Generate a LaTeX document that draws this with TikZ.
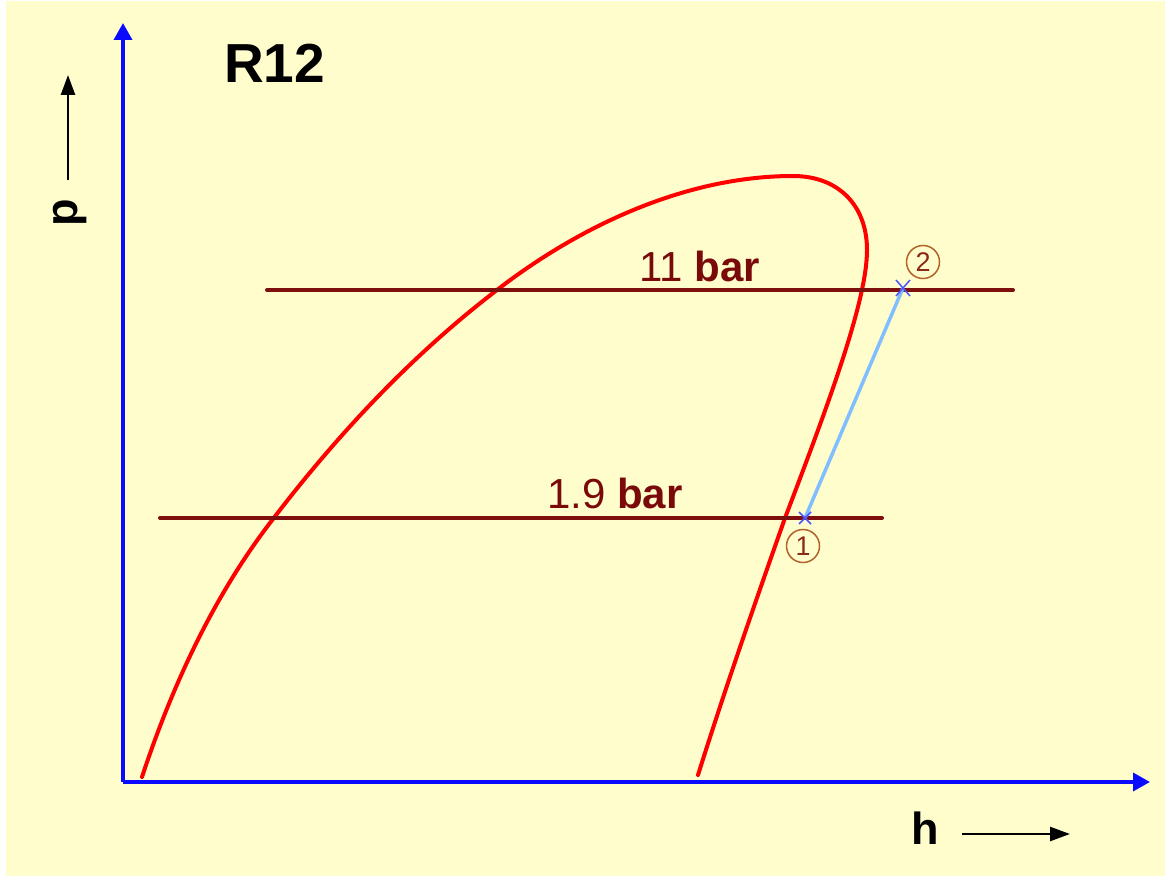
\documentclass[tikz,border=0pt]{standalone}
\usepackage{fontspec}
\setmainfont{Liberation Sans}
\usetikzlibrary{arrows.meta}
\definecolor{bgyel}{HTML}{FFFDCC}
\definecolor{curvered}{HTML}{FF0000}
\definecolor{isobar}{HTML}{7E0F0F}
\definecolor{isolabel}{HTML}{7A0A0A}
\definecolor{compline}{HTML}{80BEFF}
\definecolor{xmark}{HTML}{4A55FF}
\definecolor{axisblue}{HTML}{0A0AFF}
\definecolor{circbrown}{HTML}{B0632A}
\definecolor{circtext}{HTML}{8A2A1A}
\tikzset{
  axisline/.style={draw=axisblue, line width=3.5pt, -{Triangle[length=17pt,width=18pt]}},
  smallarrow/.style={draw=black, line width=2.5pt, -{Triangle[length=20pt,width=14pt]}},
  isoline/.style={draw=isobar, line width=4pt, line cap=round},
  satcurve/.style={draw=curvered, line width=4pt, line cap=round, line join=round},
  compress/.style={draw=compline, line width=3.5pt},
  xm/.style={draw=xmark, line width=1.5pt},
  isotext/.style={text=isolabel, font=\fontsize{42}{42}\selectfont, inner sep=0pt, anchor=base west},
  statept/.style={circle, draw=circbrown, line width=1.5pt, minimum size=33pt, inner sep=0pt, text=circtext, font=\fontsize{27}{27}\selectfont},
  axlabel/.style={text=black, font=\fontsize{45}{45}\selectfont\bfseries, inner sep=0pt}
}
\begin{document}
\begin{tikzpicture}[x=1pt,y=-1pt]
\useasboundingbox (0,0) rectangle (1167,877);
\fill[white] (0,0) rectangle (1167,877);
\fill[bgyel] (6,1) rectangle (1165,876);
% axes
\coordinate (O) at (123,782);
\coordinate (ytip) at (123,23);
\coordinate (xtip) at (1150,782);
\draw[axisline] (O) -- (ytip);
\draw[axisline] (O) -- (xtip);
% saturation curve
\coordinate (cA) at (142,777);
\coordinate (cB) at (273,519);
\coordinate (cC) at (497,290);
\coordinate (cD) at (793,176);
\coordinate (cE) at (867,250);
\coordinate (cF) at (785,518);
\coordinate (cG) at (698,775);
\draw[satcurve] (cA) .. controls (172,686) and (214,595) .. (cB)
  .. controls (338,434) and (412,355) .. (cC)
  .. controls (581,225) and (687,176) .. (cD)
  .. controls (838,176) and (867,205) .. (cE)
  .. controls (867,300) and (830,400) .. (cF)
  .. controls (755,603) and (725,689) .. (cG);
% isobars
\coordinate (hpL) at (267,290);
\coordinate (hpR) at (1013,290);
\coordinate (lpL) at (160,518);
\coordinate (lpR) at (882,518);
\draw[isoline] (hpL) -- (hpR);
\draw[isoline] (lpL) -- (lpR);
\node[isotext] (hplab) at (639,282) {11 \textbf{bar}};
\node[isotext] (lplab) at (547,508) {1.9 \textbf{bar}};
% compression
\coordinate (p1) at (805,518);
\coordinate (p2) at (903,288);
\draw[compress] (p1) -- (p2);
\draw[xm] ([shift={(-6,-6)}]p1) -- ([shift={(6,6)}]p1);
\draw[xm] ([shift={(-6,6)}]p1) -- ([shift={(6,-6)}]p1);
\draw[xm] ([shift={(-7,-8)}]p2) -- ([shift={(7,8)}]p2);
\draw[xm] ([shift={(-7,8)}]p2) -- ([shift={(7,-8)}]p2);
\node[statept] (s1) at (803,546) {1};
\node[statept] (s2) at (923,262) {2};
% labels
\node[font=\fontsize{55}{55}\selectfont\bfseries, inner sep=0pt, anchor=base west] (title) at (224,83) {R12};
\node[axlabel, rotate=90] (plab) at (70,213) {p};
\coordinate (pa0) at (68,180);
\coordinate (pa1) at (68,75);
\draw[smallarrow] (pa0) -- (pa1);
\node[axlabel] (hlab) at (925,828) {h};
\coordinate (ha0) at (962,834);
\coordinate (ha1) at (1070,834);
\draw[smallarrow] (ha0) -- (ha1);
\end{tikzpicture}
\end{document}
